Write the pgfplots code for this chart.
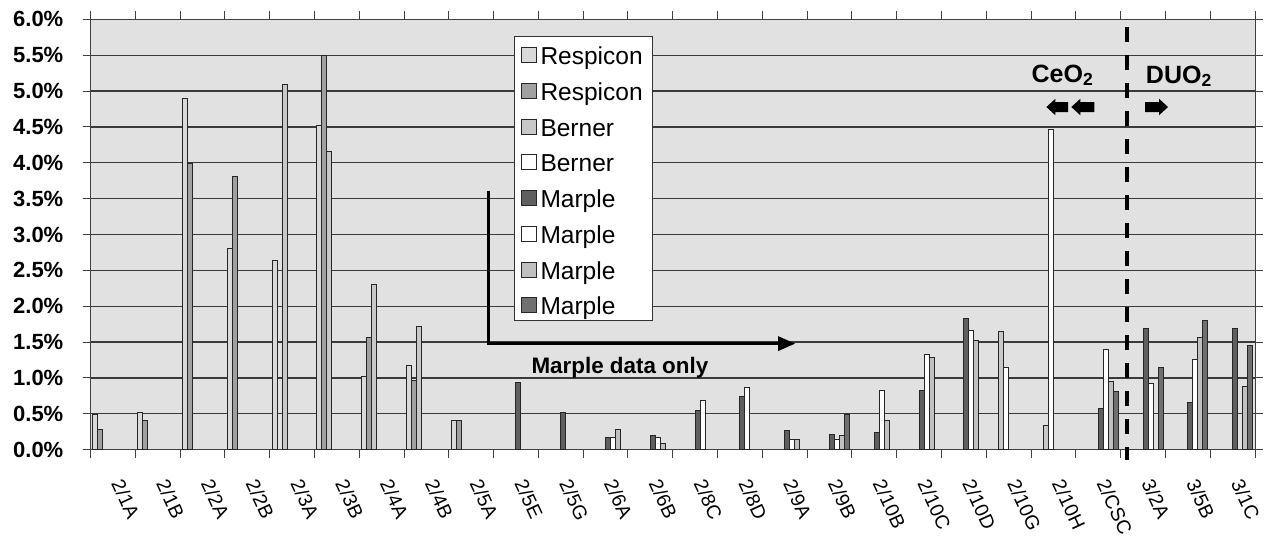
\documentclass[border=0pt]{standalone}
\usepackage{fontspec}
\setmainfont{Liberation Sans}
\usepackage{pgfplots}
\pgfplotsset{compat=1.18}

\definecolor{bgc}{HTML}{E1E1E1}
\definecolor{gridc}{HTML}{3A3A3A}
\definecolor{respA}{HTML}{D9D9D9}
\definecolor{respB}{HTML}{A0A0A0}
\definecolor{bernA}{HTML}{C8C8C8}
\definecolor{marA}{HTML}{5F5F5F}
\definecolor{marC}{HTML}{C0C0C0}
\definecolor{marD}{HTML}{707070}

\begin{document}
\begin{tikzpicture}
\begin{axis}[
  name=ax,
  scale only axis,
  width=1164.5pt, height=430.3pt,
  xmin=-0.5, xmax=25.5, ymin=0, ymax=6,
  clip=false,
  ybar=0pt, bar width=5pt,
  axis background/.style={fill=bgc},
  axis line style={draw=black!75, line width=1pt},
  tick align=outside,
  major tick length=8pt, minor tick length=8pt,
  ytick={0,0.5,1,1.5,2,2.5,3,3.5,4,4.5,5,5.5,6},
  ytick style={draw=black!75, line width=1pt},
  xtick={0,...,25},
  major x tick style={draw=none},
  minor xtick={-0.5,0.5,...,25.5},
  minor x tick style={draw=black!75, line width=1pt},
  ymajorgrids,
  major grid style={draw=gridc, line width=1.3pt},
  xticklabels={2/1A,2/1B,2/2A,2/2B,2/3A,2/3B,2/4A,2/4B,2/5A,2/5E,2/5G,2/6A,2/6B,2/8C,2/8D,2/9A,2/9B,2/10B,2/10C,2/10D,2/10G,2/10H,2/CSC,3/2A,3/5B,3/1C},
  xticklabel style={font=\fontsize{19.5}{19.5}\selectfont, xshift=11pt, yshift=-20pt, rotate=-65, anchor=north west, inner sep=0pt},
  /pgf/number format/assume math mode=true,
  yticklabel={\pgfmathprintnumber[fixed,fixed zerofill,precision=1]{\tick}\%},
  yticklabel style={font=\fontsize{22}{22}\selectfont\bfseries, anchor=east, inner sep=0pt, xshift=-19pt},
  legend style={at={(rel axis cs:0.3637,0.9605)}, anchor=north west, draw=black!80, line width=1pt, fill=white,
    inner xsep=6pt, inner ysep=5pt, row sep=11.7pt,
    font=\fontsize{24.5}{24.5}\selectfont,
    nodes={inner xsep=4pt, inner ysep=0pt, text height=23pt, text depth=1pt}},
  legend cell align=left,
  legend image code/.code={\draw[#1, line width=1pt] (0pt,-9pt) rectangle (15pt,6pt);},
  every axis plot/.append style={draw=black!85, line width=1pt},
]
% Respicon
\addplot[fill=respA] coordinates {(0,0.49) (1,0.52) (2,4.90) (3,2.81) (4,2.64) (5,4.52) (6,1.02) (7,1.17) (8,0.41)};
\addplot[fill=respB] coordinates {(0,0.28) (1,0.41) (2,3.99) (3,3.81) (5,5.49) (6,1.57) (7,0.96) (8,0.41)};
% Berner
\addplot[fill=bernA] coordinates {(4,5.09) (5,4.16) (6,2.30) (7,1.71) (20,1.64) (21,0.33)};
\addplot[fill=white] coordinates {(20,1.14) (21,4.46)};
% Marple
\addplot[fill=marA] coordinates {(9,0.93) (10,0.52) (11,0.17) (12,0.19) (13,0.55) (14,0.74) (15,0.26) (16,0.21) (17,0.24) (18,0.83) (19,1.83) (22,0.57) (23,1.69) (24,0.66) (25,1.69)};
\addplot[fill=white] coordinates {(11,0.17) (12,0.17) (13,0.69) (14,0.87) (15,0.14) (16,0.14) (17,0.83) (18,1.33) (19,1.66) (22,1.40) (23,0.92) (24,1.26)};
\addplot[fill=marC] coordinates {(11,0.28) (12,0.09) (15,0.14) (16,0.19) (17,0.40) (18,1.28) (19,1.52) (22,0.95) (24,1.57) (25,0.88)};
\addplot[fill=marD] coordinates {(16,0.49) (22,0.81) (23,1.14) (24,1.80) (25,1.45)};
\legend{Respicon,Respicon,Berner,Berner,Marple,Marple,Marple,Marple}

% annotations
\draw[black, line width=3pt] (axis cs:8.38,3.606) -- (axis cs:8.38,1.478) -- (axis cs:15.0,1.478);
\fill[black] (axis cs:15.23,1.478) -- ++(-17pt,7.5pt) -- ++(0pt,-15pt) -- cycle;
\node[font=\fontsize{22.4}{22.4}\selectfont\bfseries, anchor=base, inner sep=0pt] at (axis cs:11.32,1.06) {Marple data only};
\node[font=\fontsize{25}{25}\selectfont\bfseries, anchor=base, inner sep=0pt] at (axis cs:21.2,5.125) {CeO\textsubscript{2}};
\node[font=\fontsize{25}{25}\selectfont\bfseries, anchor=base, inner sep=0pt] at (axis cs:23.80,5.11) {DUO\textsubscript{2}};
\fill[black] (axis cs:20.843,4.777) -- ++(9pt,8.3pt) -- ++(0pt,-3.3pt) -- ++(12.6pt,0pt) -- ++(0pt,-10pt) -- ++(-12.6pt,0pt) -- ++(0pt,-3.3pt) -- cycle;
\fill[black] (axis cs:21.40,4.777) -- ++(9pt,8.3pt) -- ++(0pt,-3.3pt) -- ++(14pt,0pt) -- ++(0pt,-10pt) -- ++(-14pt,0pt) -- ++(0pt,-3.3pt) -- cycle;
\fill[black] (axis cs:23.558,4.777) -- ++(-9pt,8.3pt) -- ++(0pt,-3.3pt) -- ++(-14pt,0pt) -- ++(0pt,-10pt) -- ++(14pt,0pt) -- ++(0pt,-3.3pt) -- cycle;
\draw[black, line width=4pt, dash pattern=on 15pt off 13pt] (axis cs:22.643,5.888) -- (axis cs:22.643,-0.149);
\end{axis}
\pgfresetboundingbox
\path[use as bounding box] ([xshift=-90.5pt,yshift=-85.7pt]ax.south west) rectangle ([xshift=18pt,yshift=19.3pt]ax.north east);
\end{tikzpicture}
\end{document}
